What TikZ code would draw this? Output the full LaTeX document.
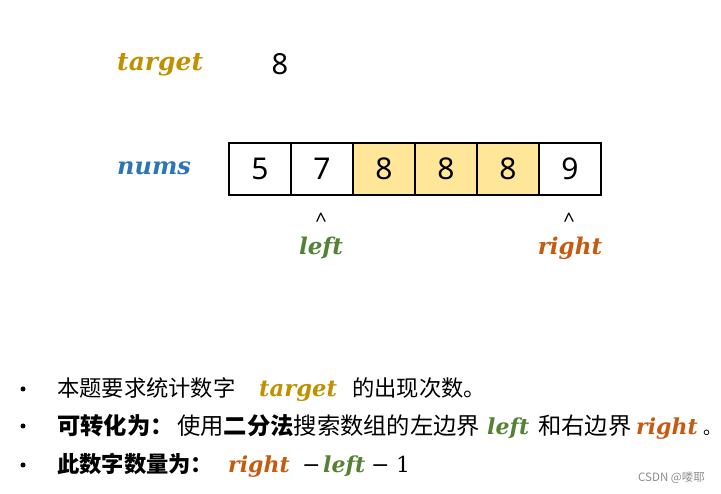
\documentclass[tikz,border=0pt]{standalone}
\usepackage{fontspec}
\setmainfont{Noto Sans}
\newfontfamily\cjk{Noto Sans CJK SC}
\newfontfamily\vf{DejaVu Serif}
\newfontfamily\mf{DejaVu Serif}
\definecolor{tgtc}{HTML}{BF9000}
\definecolor{numc}{HTML}{2E75B6}
\definecolor{leftc}{HTML}{548235}
\definecolor{rightc}{HTML}{C55A11}
\definecolor{hl}{HTML}{FFE699}
\definecolor{wmc}{HTML}{8C8C8C}
\tikzset{
  cell/.style={draw=black, line width=1.2pt, minimum width=62pt, minimum height=52pt, inner sep=0pt, font=\fontsize{30}{32}\selectfont},
  var/.style={inner sep=0pt, font=\vf\bfseries\itshape\fontsize{23}{26}\selectfont},
  svar/.style={inner sep=0pt, anchor=base west, font=\vf\bfseries\itshape\fontsize{22}{24}\selectfont},
  zh/.style={inner sep=0pt, anchor=base west, font=\cjk\fontsize{22.3}{26}\selectfont},
  zhb/.style={inner sep=0pt, anchor=base west, font=\cjk\fontsize{23.3}{26}\selectfont},
  caret/.style={inner sep=0pt, font=\fontsize{20}{22}\selectfont},
  op/.style={inner sep=0pt, anchor=base west, font=\mf\fontsize{22}{26}\selectfont},
  bul/.style={circle, fill=black, inner sep=0pt, minimum size=5pt}
}
\begin{document}
\begin{tikzpicture}[x=1pt,y=-1pt]
\useasboundingbox (0,0) rectangle (721,494);
% top
\node[var, text=tgtc, anchor=base west, font=\vf\bfseries\itshape\fontsize{25}{28}\selectfont] (tgtlab) at (117,71) {target};
\node[inner sep=0pt, font=\fontsize{29}{30}\selectfont] (tgtval) at (280,64) {8};
\node[var, text=numc, anchor=base west, font=\vf\bfseries\itshape\fontsize{24}{28}\selectfont] (numslab) at (117,175) {nums};
% cells
\node[cell] (c0) at (260,169) {5};
\node[cell] (c1) at (322,169) {7};
\node[cell, fill=hl] (c2) at (384,169) {8};
\node[cell, fill=hl] (c3) at (446,169) {8};
\node[cell, fill=hl] (c4) at (508,169) {8};
\node[cell] (c5) at (570,169) {9};
% pointers
\node[caret] (capL) at (321,220) {\textasciicircum};
\node[caret] (capR) at (569,220) {\textasciicircum};
\node[var, text=leftc, anchor=base] (leftlab) at (321,255) {left};
\node[var, text=rightc, anchor=base] (rightlab) at (570,255) {right};
% bullets
\node[bul] (b1) at (23,389) {};
\node[bul] (b2) at (23,426) {};
\node[bul] (b3) at (23,465) {};
% line 1
\node[zh] (l1a) at (57,397) {本题要求统计数字};
\node[svar, text=tgtc, font=\vf\bfseries\itshape\fontsize{22.7}{24}\selectfont] (l1b) at (259,397) {target};
\node[zh] (l1c) at (352,397) {的出现次数。};
% line 2
\node[zhb] (l2a) at (57,435) {\bfseries 可转化为：};
\node[zhb] (l2b) at (177,435) {使用};
\node[zhb] (l2c) at (223.6,435) {\bfseries 二分法};
\node[zhb] (l2d) at (293.5,435) {搜索数组的左边界};
\node[svar, text=leftc] (l2e) at (487,435) {left};
\node[zhb] (l2f) at (538,435) {和右边界};
\node[svar, text=rightc] (l2g) at (636,435) {right};
\node[zh, font=\cjk\fontsize{18}{22}\selectfont] (l2h) at (703,435) {。};
% line 3
\node[zh] (l3a) at (57,473) {\bfseries 此数字数量为：};
\node[svar, text=rightc] (l3b) at (228,473) {right};
\node[op] (l3c) at (302,473) {−};
\node[svar, text=leftc] (l3d) at (323,473) {left};
\node[op] (l3e) at (371,473) {−};
\node[op] (l3f) at (396,473) {1};
% watermark
\node[inner sep=0pt, anchor=west, text=wmc, font=\cjk\fontsize{11.5}{13}\selectfont] (wm) at (638,478) {CSDN @喽耶};
\end{tikzpicture}
\end{document}
